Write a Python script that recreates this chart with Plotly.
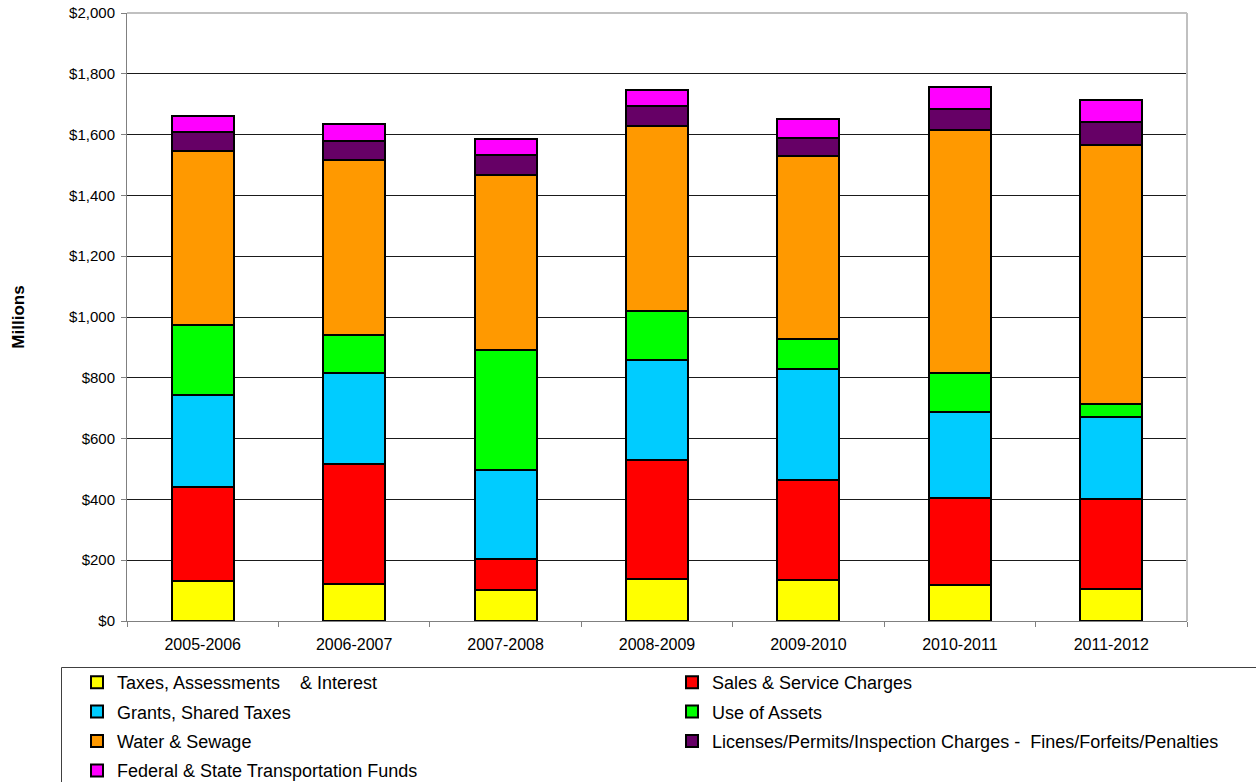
import plotly.graph_objects as go

# Fiscal years shown on the category axis
years = ["2005-2006", "2006-2007", "2007-2008", "2008-2009",
         "2009-2010", "2010-2011", "2011-2012"]

# Revenue by source, in millions of dollars
taxes = [130, 121, 101, 138, 136, 117, 106]
sales = [312, 395, 103, 391, 327, 289, 295]
grants = [301, 301, 293, 331, 366, 283, 271]
use_of_assets = [231, 124, 394, 159, 99, 127, 43]
water_sewage = [573, 575, 576, 610, 603, 798, 852]
licenses = [60, 63, 65, 64, 57, 71, 75]
transport = [54, 55, 55, 53, 62, 73, 72]

# Value axis ticks
y_ticks = [0, 200, 400, 600, 800, 1000, 1200, 1400, 1600, 1800, 2000]
y_tick_labels = ["${:,}".format(v) for v in y_ticks]

NB = "\u00a0"
# (name, values, colour, legend column)
series = [
    ("Taxes, Assessments" + " " + NB * 3 + "& Interest", taxes, "#FFFF00", "legend"),
    ("Sales & Service Charges", sales, "#FF0000", "legend2"),
    ("Grants, Shared Taxes", grants, "#00CCFF", "legend"),
    ("Use of Assets", use_of_assets, "#00FF00", "legend2"),
    ("Water & Sewage", water_sewage, "#FF9900", "legend"),
    ("Licenses/Permits/Inspection Charges -" + " " + NB + "Fines/Forfeits/Penalties",
     licenses, "#660066", "legend2"),
    ("Federal & State Transportation Funds", transport, "#FF00FF", "legend"),
]

FONT = "Arial, Liberation Sans, sans-serif"

fig = go.Figure()
for i, (name, vals, color, leg) in enumerate(series):
    fig.add_trace(go.Bar(
        x=years, y=vals, name=name,
        legend=leg, legendgroup="g%d" % i,
        marker=dict(color=color, line=dict(color="#000000", width=2)),
    ))

W, H = 1256, 782
L, R, T, B = 127, 69, 13, 161
pw, ph = W - L - R, H - T - B


def px_x(px):
    return (px - L) / pw


def px_y(py):
    return (H - B - py) / ph


legend_style = dict(
    orientation="v",
    xanchor="left", yanchor="top",
    font=dict(family=FONT, size=18, color="#000000"),
    borderwidth=0,
    bgcolor="rgba(0,0,0,0)",
    tracegroupgap=3,
    traceorder="grouped",
)

fig.update_layout(
    width=W, height=H,
    margin=dict(l=L, r=R, t=T, b=B, pad=0, autoexpand=False),
    barmode="stack",
    bargap=0.59,
    plot_bgcolor="#FFFFFF",
    paper_bgcolor="#FFFFFF",
    font=dict(family=FONT, color="#000000"),
    showlegend=True,
    legend=dict(x=px_x(77), y=px_y(664), **legend_style),
    legend2=dict(x=px_x(672), y=px_y(664), **legend_style),
    xaxis=dict(
        showgrid=False,
        showline=True, linecolor="#808080", linewidth=1,
        ticks="outside", ticklen=5, tickcolor="#808080",
        tickson="boundaries",
        tickfont=dict(family=FONT, size=16, color="#000000"),
        ticklabelstandoff=9,
    ),
    yaxis=dict(
        range=[0, 2000],
        tickmode="array", tickvals=y_ticks, ticktext=y_tick_labels,
        showgrid=True, gridcolor="#1a1a1a", gridwidth=1,
        zeroline=False,
        showline=True, linecolor="#808080", linewidth=1,
        ticks="outside", ticklen=5, tickcolor="#808080",
        tickfont=dict(family=FONT, size=15, color="#000000"),
        ticklabelstandoff=3,
        title=dict(text="<b>Millions</b>", standoff=40,
                   font=dict(family=FONT, size=17, color="#000000")),
        automargin=False,
    ),
    shapes=[
        # light frame along the top and right of the plotting area
        dict(type="line", xref="paper", yref="paper", x0=0, x1=1, y0=1, y1=1,
             line=dict(color="#C0C0C0", width=2), layer="above"),
        dict(type="line", xref="paper", yref="paper", x0=1, x1=1, y0=0, y1=1,
             line=dict(color="#C0C0C0", width=2), layer="above"),
        # legend frame
        dict(type="rect", xref="paper", yref="paper",
             x0=px_x(61.5), x1=px_x(1320), y0=px_y(667.5), y1=px_y(820),
             line=dict(color="#404040", width=1), fillcolor="rgba(0,0,0,0)",
             layer="below"),
    ],
)

fig.write_html("out.html", config={"displayModeBar": False})
